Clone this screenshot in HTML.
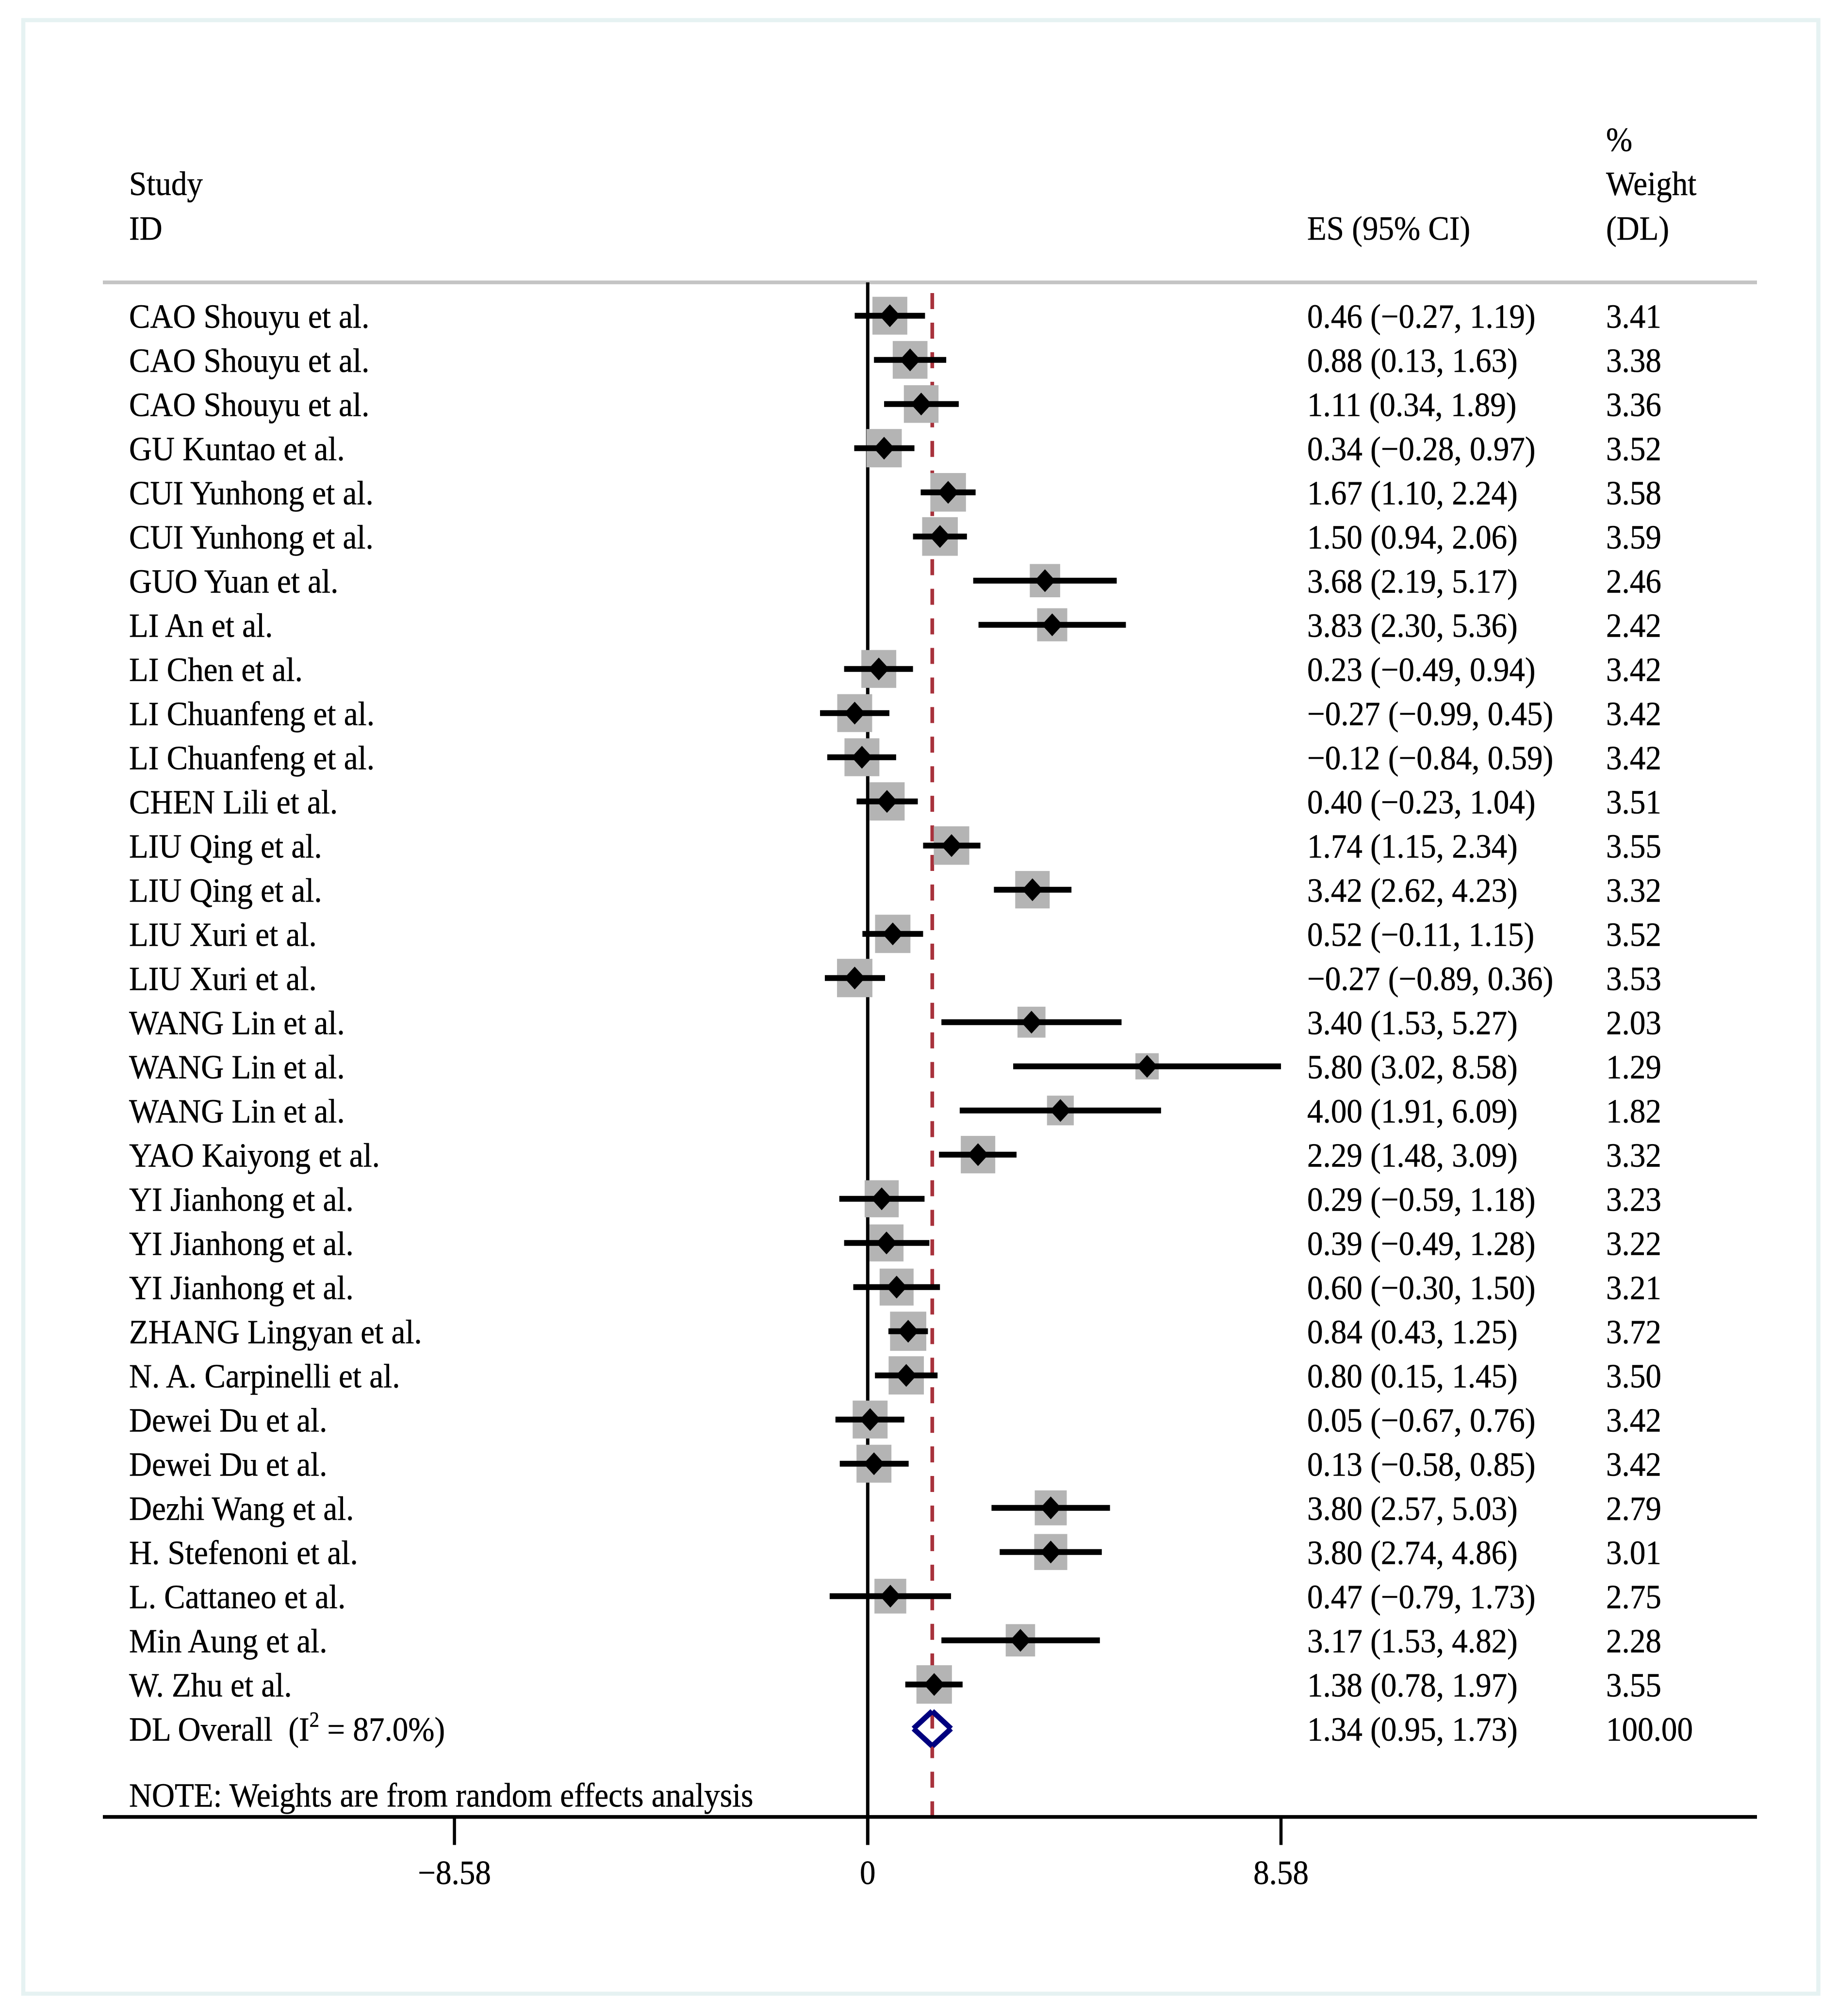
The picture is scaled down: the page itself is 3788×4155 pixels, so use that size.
<!DOCTYPE html>
<html lang="en">
<head>
<meta charset="utf-8">
<title>Forest plot</title>
<style>
html,body{margin:0;padding:0;background:#fff;}
svg{display:block;}
text{font-family:"Liberation Serif","Times New Roman",serif;font-size:70px;fill:#000;stroke:#000;stroke-width:0.5px;}
</style>
</head>
<body>
<svg id="chart" xmlns="http://www.w3.org/2000/svg" width="3788" height="4155" viewBox="0 0 3788 4155">
  <rect x="0" y="0" width="3788" height="4155" fill="#ffffff"/>
  <rect x="48" y="41.5" width="3699.5" height="4067.5" fill="#ffffff" stroke="#e6f2f2" stroke-width="8.5"/>
  <g id="headers">
    <text transform="translate(266,402) scale(0.93,1)">Study</text>
    <text transform="translate(266,494) scale(0.93,1)">ID</text>
    <text transform="translate(2694,494) scale(0.93,1)">ES (95% CI)</text>
    <text transform="translate(3310,311) scale(0.93,1)">%</text>
    <text transform="translate(3310,402) scale(0.93,1)">Weight</text>
    <text transform="translate(3310,494) scale(0.93,1)">(DL)</text>
  </g>
  <line x1="212" x2="3621" y1="582" y2="582" stroke="#c4c4c4" stroke-width="7.7"/>
  <g id="refs"></g>
  <g id="rows"></g>
  <g id="overall"></g>
  <text transform="translate(266,3723.5) scale(0.93,1)">NOTE: Weights are from random effects analysis</text>
  <line x1="212" x2="3621" y1="3744.7" y2="3744.7" stroke="#000" stroke-width="7.7"/>
  <g id="ticks"></g>
</svg>
<script>
var studies = ["CAO Shouyu et al.","CAO Shouyu et al.","CAO Shouyu et al.","GU Kuntao et al.","CUI Yunhong et al.","CUI Yunhong et al.","GUO Yuan et al.","LI An et al.","LI Chen et al.","LI Chuanfeng et al.","LI Chuanfeng et al.","CHEN Lili et al.","LIU Qing et al.","LIU Qing et al.","LIU Xuri et al.","LIU Xuri et al.","WANG Lin et al.","WANG Lin et al.","WANG Lin et al.","YAO Kaiyong et al.","YI Jianhong et al.","YI Jianhong et al.","YI Jianhong et al.","ZHANG Lingyan et al.","N. A. Carpinelli et al.","Dewei Du et al.","Dewei Du et al.","Dezhi Wang et al.","H. Stefenoni et al.","L. Cattaneo et al.","Min Aung et al.","W. Zhu et al."];
var effects = [0.46,0.88,1.11,0.34,1.67,1.50,3.68,3.83,0.23,-0.27,-0.12,0.40,1.74,3.42,0.52,-0.27,3.40,5.80,4.00,2.29,0.29,0.39,0.60,0.84,0.80,0.05,0.13,3.80,3.80,0.47,3.17,1.38];
var lower = [-0.27,0.13,0.34,-0.28,1.10,0.94,2.19,2.30,-0.49,-0.99,-0.84,-0.23,1.15,2.62,-0.11,-0.89,1.53,3.02,1.91,1.48,-0.59,-0.49,-0.30,0.43,0.15,-0.67,-0.58,2.57,2.74,-0.79,1.53,0.78];
var upper = [1.19,1.63,1.89,0.97,2.24,2.06,5.17,5.36,0.94,0.45,0.59,1.04,2.34,4.23,1.15,0.36,5.27,8.58,6.09,3.09,1.18,1.28,1.50,1.25,1.45,0.76,0.85,5.03,4.86,1.73,4.82,1.97];
var weights = [3.41,3.38,3.36,3.52,3.58,3.59,2.46,2.42,3.42,3.42,3.42,3.51,3.55,3.32,3.52,3.53,2.03,1.29,1.82,3.32,3.23,3.22,3.21,3.72,3.50,3.42,3.42,2.79,3.01,2.75,2.28,3.55];
var overallEffect = 1.34;
var overallLower = 0.95;
var overallUpper = 1.73;
var overallWeight = 100.00;
var overallHeterogeneity = "87.0%";
var axisTicks = [-8.58, 0, 8.58];

var NS = "http://www.w3.org/2000/svg";
var X_ZERO = 1788.3, X_UNIT = 99.27, Y_FIRST = 650.7, Y_STEP = 91, BASELINE_DROP = 25;
var AXIS_Y = 3744.7, TICK_END = 3802.5, TOP_Y = 582;
var TEXT_SCALE = 0.93;
function xScale(v){ return X_ZERO + v * X_UNIT; }
function yScale(i){ return Y_FIRST + i * Y_STEP; }
function fmt(v){ return v.toFixed(2).replace("-", "\u2212"); }
function fmtTick(v){ return v === 0 ? "0" : String(v).replace("-", "\u2212"); }
function make(tag){ return document.createElementNS(NS, tag); }
function line(x1,y1,x2,y2,color,width){
  var l = make("line");
  l.setAttribute("x1", x1); l.setAttribute("y1", y1);
  l.setAttribute("x2", x2); l.setAttribute("y2", y2);
  l.setAttribute("stroke", color); l.setAttribute("stroke-width", width);
  return l;
}
function label(x,y,str,anchor){
  var t = make("text");
  t.setAttribute("transform", "translate(" + x + "," + y + ") scale(" + TEXT_SCALE + ",1)");
  if(anchor){ t.setAttribute("text-anchor", anchor); }
  t.textContent = str;
  return t;
}

var refs = document.getElementById("refs");
var zeroLine = line(X_ZERO, TOP_Y, X_ZERO, TICK_END, "#000", 7);


refs.appendChild(zeroLine);
var pooledLine = line(xScale(overallEffect), 604, xScale(overallEffect), AXIS_Y - 3, "#a8323c", 7.6);
pooledLine.setAttribute("stroke-dasharray", "33 27.95");


refs.appendChild(pooledLine);

var rowsG = document.getElementById("rows");
var squaresG = make("g");


rowsG.appendChild(squaresG);
var marksG = make("g");


rowsG.appendChild(marksG);
var labelsG = make("g");


rowsG.appendChild(labelsG);

studies.forEach(function(name, i){
  var y = yScale(i), cx = xScale(effects[i]);
  var root = Math.sqrt(weights[i]);
  var w = 10 + 33.5 * root, h = 15.6 + 33.8 * root;

  var sq = make("rect");
  sq.setAttribute("x", cx - w/2);
  sq.setAttribute("y", y - h/2);
  sq.setAttribute("width", w);
  sq.setAttribute("height", h);
  sq.setAttribute("fill", "#b4b4b4");
  
  
  squaresG.appendChild(sq);

  var ci = line(xScale(lower[i]), y, xScale(upper[i]), y, "#000", 12);
  
  
  marksG.appendChild(ci);

  var d = make("polygon");
  d.setAttribute("points", (cx-21.5)+","+y+" "+cx+","+(y-23.5)+" "+(cx+21.5)+","+y+" "+cx+","+(y+23.5));
  d.setAttribute("fill", "#000");
  
  
  marksG.appendChild(d);

  var base = y + BASELINE_DROP;
  var t1 = label(266, base, name);
  
  
  labelsG.appendChild(t1);
  var t2 = label(2694, base, fmt(effects[i]) + " (" + fmt(lower[i]) + ", " + fmt(upper[i]) + ")");
  
  
  labelsG.appendChild(t2);
  var t3 = label(3310, base, fmt(weights[i]));
  
  
  labelsG.appendChild(t3);
});

var overallG = document.getElementById("overall");
var oy = yScale(studies.length);
var ox = xScale(overallEffect), oLo = xScale(overallLower), oHi = xScale(overallUpper), oH = 36;
var oBase = oy + BASELINE_DROP;
var dia = make("path");
dia.setAttribute("d", "M"+oLo+" "+oy+"L"+ox+" "+(oy-oH)+"M"+ox+" "+(oy-oH)+"L"+oHi+" "+oy+"M"+oHi+" "+oy+"L"+ox+" "+(oy+oH)+"M"+ox+" "+(oy+oH)+"L"+oLo+" "+oy);
dia.setAttribute("fill", "none");
dia.setAttribute("stroke", "#00007f");
dia.setAttribute("stroke-width", "11");


overallG.appendChild(dia);

var oLabel = make("text");
oLabel.setAttribute("transform", "translate(266," + oBase + ") scale(" + TEXT_SCALE + ",1)");
oLabel.setAttribute("xml:space", "preserve");


var s1 = make("tspan");
s1.textContent = "DL Overall\u00A0\u00A0(I";
oLabel.appendChild(s1);
var s2 = make("tspan");
s2.setAttribute("dy", "-29");
s2.setAttribute("style", "font-size:44px");
s2.textContent = "2";
oLabel.appendChild(s2);
var s3 = make("tspan");
s3.setAttribute("dy", "29");
s3.textContent = " = " + overallHeterogeneity + ")";
oLabel.appendChild(s3);
overallG.appendChild(oLabel);

var oEs = label(2694, oBase, fmt(overallEffect) + " (" + fmt(overallLower) + ", " + fmt(overallUpper) + ")");


overallG.appendChild(oEs);
var oW = label(3310, oBase, fmt(overallWeight));


overallG.appendChild(oW);

var ticksG = document.getElementById("ticks");
axisTicks.forEach(function(v){
  var tx = xScale(v);
  var tk = line(tx, AXIS_Y, tx, TICK_END, "#000", 6.5);
  
  
  ticksG.appendChild(tk);
  var tl = label(tx, 3883, fmtTick(v), "middle");
  
  
  ticksG.appendChild(tl);
});
</script>
</body>
</html>
